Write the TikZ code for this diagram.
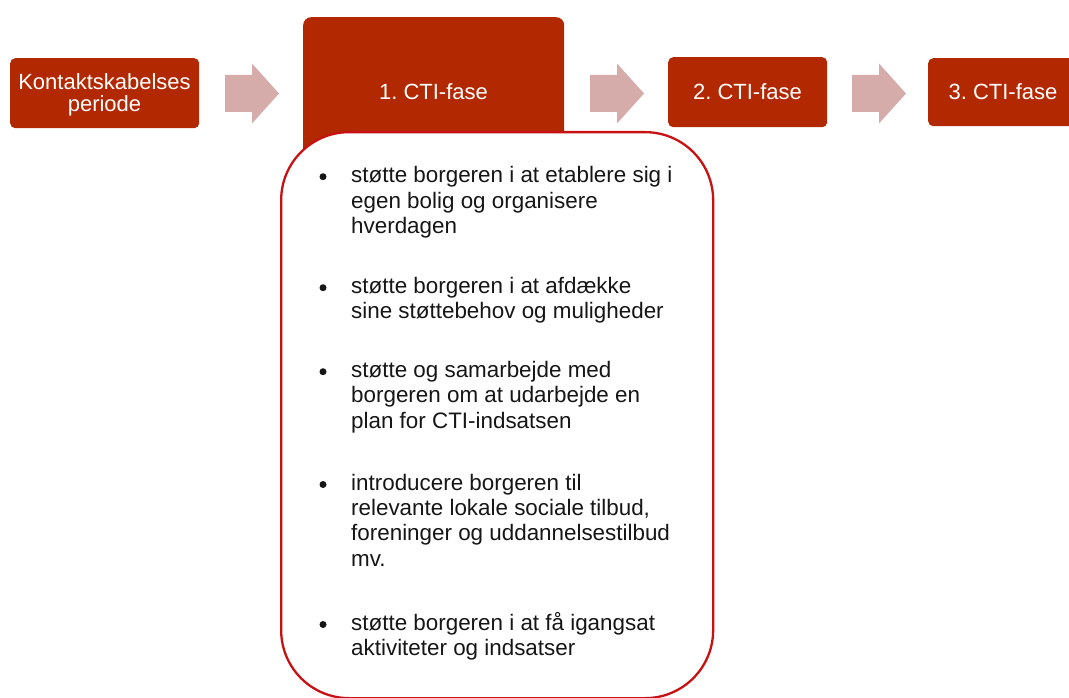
\documentclass[tikz,border=0pt]{standalone}
\usepackage{fontspec}
\setmainfont{Liberation Sans}
\frenchspacing
\definecolor{boxred}{RGB}{178,40,0}
\definecolor{arrowpink}{RGB}{214,172,170}
\definecolor{framered}{RGB}{198,18,18}
\definecolor{ink}{RGB}{22,22,22}
\tikzset{
  phase/.style={fill=boxred, draw=none, rounded corners=5pt, inner sep=0pt},
  phaselabel/.style={text=white, anchor=base, inner sep=0pt, align=center,
    font=\fontsize{22}{22}\selectfont},
  listframe/.style={draw=framered, line width=2.3pt, fill=white,
    rounded corners=68pt, inner sep=0pt, anchor=north west},
  % multi-line text nodes: the base anchor sits on the last line
  itemtext/.style={anchor=base west, align=left, inner sep=0pt, text=ink,
    font=\fontsize{22.4}{25.4}\selectfont},
  dot/.style={circle, fill=ink, draw=none, minimum size=7pt, inner sep=0pt},
  blockarrow/.pic={
    \fill[arrowpink] (0,-18.5) -- (27,-18.5) -- (27,-30) -- (54,0)
      -- (27,30) -- (27,18.5) -- (0,18.5) -- cycle;
  }
}
\begin{document}
\begin{tikzpicture}[x=1pt,y=-1pt]
\useasboundingbox (0,0) rectangle (1069,698);
\clip (0,0) rectangle (1069,698);

% phase boxes
\node[phase, minimum width=189pt, minimum height=70pt, anchor=north west] (kontakt) at (10,58) {};
\node[phase, rounded corners=8pt, minimum width=261pt, minimum height=243pt, anchor=north west] (fase1) at (303,17) {};
\node[phase, minimum width=159pt, minimum height=70pt, anchor=north west] (fase2) at (668,57) {};
\node[phase, minimum width=150pt, minimum height=68pt, anchor=north west] (fase3) at (928,58) {};

\node[phaselabel] (kontaktlbl) at (104.5,112) {Kontaktskabelses\\periode};
\node[phaselabel] (fase1lbl) at (433.5,100) {1. CTI-fase};
\node[phaselabel] (fase2lbl) at (747.5,100) {2. CTI-fase};
\node[phaselabel] (fase3lbl) at (1003,100) {3. CTI-fase};

% block arrows between the phases
\pic at (225,93.5) {blockarrow};
\pic at (590,93.5) {blockarrow};
\pic at (852,93.5) {blockarrow};

% task list of the first phase
\node[listframe, minimum width=432pt, minimum height=566pt] (tasks) at (280,131) {};

\node[dot] (d1) at (323,176.7) {};
\node[itemtext] (t1) at (351,233.5) {støtte borgeren i at etablere sig i\\egen bolig og organisere\\hverdagen};
\node[dot] (d2) at (323,287.7) {};
\node[itemtext] (t2) at (351,318.7) {støtte borgeren i at afdække\\sine støttebehov og muligheder};
\node[dot] (d3) at (323,371.7) {};
\node[itemtext] (t3) at (351,428.1) {støtte og samarbejde med\\borgeren om at udarbejde en\\plan for CTI-indsatsen};
\node[dot] (d4) at (323,484.5) {};
\node[itemtext] (t4) at (351,566.2) {introducere borgeren til\\relevante lokale sociale tilbud,\\foreninger og uddannelsestilbud\\mv.};
\node[dot] (d5) at (323,624.5) {};
\node[itemtext] (t5) at (351,655.9) {støtte borgeren i at få igangsat\\aktiviteter og indsatser};
\end{tikzpicture}
\end{document}
